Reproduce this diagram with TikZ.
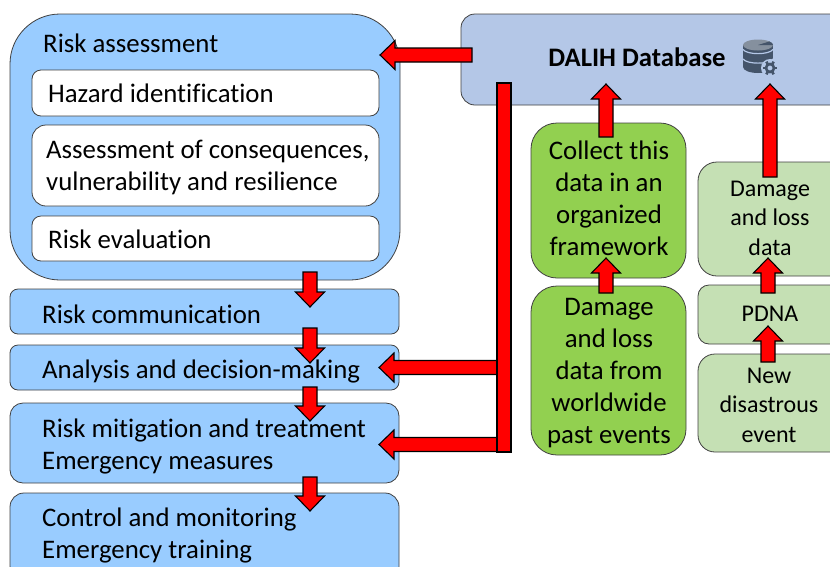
\documentclass[tikz,border=0pt]{standalone}
\usepackage{fontspec}
\setmainfont{Carlito}[Ligatures=CommonOff]
\usetikzlibrary{calc}
\definecolor{bluebox}{HTML}{99CCFF}
\definecolor{dbbox}{HTML}{B4C7E7}
\definecolor{greenA}{HTML}{92D050}
\definecolor{greenB}{HTML}{C5E0B4}
\definecolor{icon}{HTML}{44546A}
\tikzset{
  x=1pt,y=-1pt,
  box/.style={draw=black!75,line width=.8pt,rounded corners=#1,fill=bluebox},
  box/.default=8pt,
  txt/.style={font=\fontsize{26.8}{32}\selectfont,anchor=west,align=left,inner sep=0pt},
  ctxt/.style={font=\fontsize{26.8}{32}\selectfont,align=center,inner sep=0pt},
  rtxt/.style={font=\fontsize{24}{29.5}\selectfont,align=center,inner sep=0pt},
  barrow/.style={draw=black,line width=1.1pt,fill=red,line join=miter}
}
\newcommand{\blockarrow}[2]{%
  \coordinate (hb) at ($(#2)!15pt!(#1)$);
  \draw[barrow] ($(#1)!7pt!90:(#2)$) -- ($(hb)!7pt!90:(#2)$) -- ($(hb)!14.5pt!90:(#2)$) -- (#2)
    -- ($(hb)!14.5pt!-90:(#2)$) -- ($(hb)!7pt!-90:(#2)$) -- ($(#1)!7pt!-90:(#2)$) -- cycle;}
\newcommand{\boxnode}[6]{% name, x1,y1,x2,y2, style
  \path[#6] (#2,#3) rectangle (#4,#5);
  \coordinate (#1) at ($(#2,#3)!.5!(#4,#5)$);}
\begin{document}
\begin{tikzpicture}
\useasboundingbox (0,0) rectangle (830,566);
\clip (0,0) rectangle (830,566);
% left column
\boxnode{ra}{10}{14}{400}{280}{box=50pt}
\boxnode{hz}{32}{70}{379}{116}{box=9pt,fill=white}
\boxnode{ac}{32}{125}{379}{206}{box=14pt,fill=white}
\boxnode{re}{32}{216}{379}{261}{box=9pt,fill=white}
\boxnode{rc}{10}{289}{399}{334}{box=8pt}
\boxnode{ad}{10}{345}{399}{390}{box=8pt}
\boxnode{rm}{10}{403}{399}{483}{box=13pt}
\boxnode{cm}{10}{493}{399}{580}{box=14pt}
\node[txt] (t1) at (43,43.5) {Risk assessment};
\node[txt] (t2) at (48,93.5) {Hazard identification};
\node[txt] (t3) at (46,167) {Assessment of consequences,\\vulnerability and resilience};
\node[txt] (t4) at (48,239.5) {Risk evaluation};
\node[txt] (t5) at (42,314) {Risk communication};
\node[txt] (t6) at (42,371) {Analysis and decision-making};
\node[txt] (t7) at (42,446) {Risk mitigation and treatment\\Emergency measures};
\node[txt] (t8) at (42,535) {Control and monitoring\\Emergency training};
% database
\boxnode{db}{461}{14}{850}{105}{box=14pt,fill=dbbox}
\node[font=\fontsize{26.7}{30}\selectfont\bfseries,inner sep=0pt] (t9) at (637,57) {DALIH Database};
% green
\boxnode{cd}{531}{123}{686}{278}{box=26pt,fill=greenA}
\boxnode{dw}{531}{286}{686}{455}{box=26pt,fill=greenA}
\boxnode{dl}{698}{162}{850}{276}{box=19pt,fill=greenB}
\boxnode{pd}{698}{285}{850}{344}{box=11pt,fill=greenB}
\boxnode{nd}{698}{354}{850}{452}{box=17pt,fill=greenB}
\node[ctxt] (t10) at (609,198) {Collect this\\data in an\\organized\\framework};
\node[ctxt] (t11) at (609,373) {Damage\\and loss\\data from\\worldwide\\past events};
\node[rtxt] (t12) at (770,218) {Damage\\and loss\\data};
\node[rtxt] (t13) at (770,314) {PDNA};
\node[rtxt] (t14) at (769,405) {New\\disastrous\\event};
% icon
\begin{scope}[shift={(743,40)}]
  \fill[icon] (0,5) rectangle (30,27);
  \fill[icon] (15,27) ellipse[x radius=15,y radius=6];
  \fill[icon!65!white] (15,5) ellipse[x radius=15,y radius=5.5];
  \fill[icon] (15,5) -- (30,5) arc[start angle=0,end angle=-40,x radius=15,y radius=5.5] -- cycle;
  \draw[dbbox,line width=1.2pt] (0,9.5) .. controls (4,15) and (26,15) .. (30,9.5);
  \draw[dbbox,line width=1.2pt] (0,19) .. controls (4,24.5) and (26,24.5) .. (30,19);
  \fill[dbbox] (27,28) circle[radius=9];
  \draw[icon,line width=2.6pt] (27,28) circle[radius=4];
  \foreach \a in {0,60,...,300} \draw[icon,line width=2.6pt] (27,28) ++(\a:4.5) -- ++(\a:2.8);
\end{scope}
% arrow ends
\coordinate (a1s) at (472,55); \coordinate (a1e) at (380,55);
\coordinate (a2s) at (310,272); \coordinate (a2e) at (310,307);
\coordinate (a3s) at (310,328); \coordinate (a3e) at (310,363);
\coordinate (a4s) at (310,387); \coordinate (a4e) at (310,421);
\coordinate (a5s) at (310,477); \coordinate (a5e) at (310,511);
\coordinate (a6s) at (606,137); \coordinate (a6e) at (606,84);
\coordinate (a7s) at (770,177); \coordinate (a7e) at (770,84);
\coordinate (a8s) at (606,293); \coordinate (a8e) at (606,258);
\coordinate (a9s) at (768,293); \coordinate (a9e) at (768,258);
\coordinate (a10s) at (768,362); \coordinate (a10e) at (768,326);
\coordinate (a11s) at (504,367.5); \coordinate (a11e) at (379,367.5);
\coordinate (a12s) at (504,444.5); \coordinate (a12e) at (379,444.5);
\blockarrow{a1s}{a1e}
\blockarrow{a2s}{a2e}
\blockarrow{a3s}{a3e}
\blockarrow{a4s}{a4e}
\blockarrow{a5s}{a5e}
\blockarrow{a6s}{a6e}
\blockarrow{a7s}{a7e}
\blockarrow{a8s}{a8e}
\blockarrow{a9s}{a9e}
\blockarrow{a10s}{a10e}
\blockarrow{a11s}{a11e}
\blockarrow{a12s}{a12e}
\draw[barrow] (497,83) rectangle (511,452);
\end{tikzpicture}
\end{document}
